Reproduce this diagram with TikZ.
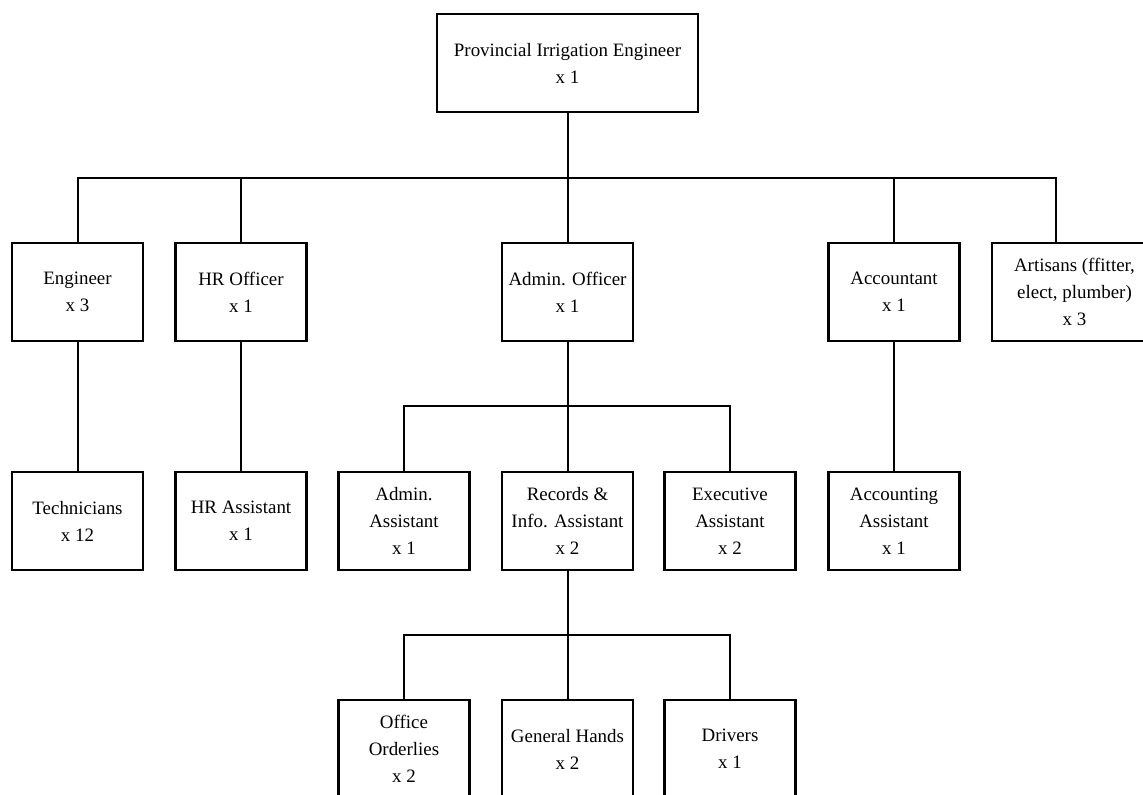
\documentclass[tikz,border=0pt]{standalone}
\usepackage{fontspec}
\setmainfont{Liberation Serif}[Ligatures=NoCommon]
\begin{document}
\begin{tikzpicture}[x=0.75pt,y=-0.75pt,
  post/.style={draw=black, line width=1.8pt, fill=white,
    minimum width=98.25pt, minimum height=73.5pt, inner sep=2pt,
    align=center, font=\fontsize{14.2}{20.3}\selectfont},
  link/.style={line width=1.5pt, line join=miter}]
\clip (0,0) rectangle (1143,794);

% top post
\node[post, minimum width=195.75pt] (pie) at (567.5,63) {Provincial Irrigation Engineer\\x 1};

% second level
\node[post] (eng) at (77.5,292) {Engineer\\x 3};
\node[post] (hro) at (241,292) {HR Officer\\x 1};
\node[post] (ado) at (567.5,292) {Admin. Officer\\x 1};
\node[post] (acc) at (894,292) {Accountant\\x 1};
\node[post, minimum width=123.75pt] (art) at (1074.5,292) {Artisans (ffitter,\\elect, plumber)\\x 3};

% third level
\node[post] (tec) at (77.5,521) {Technicians\\x 12};
\node[post] (hra) at (241,521) {HR Assistant\\x 1};
\node[post] (ada) at (404,521) {Admin.\\Assistant\\x 1};
\node[post] (rec) at (567.5,521) {Records \&\\Info. Assistant\\x 2};
\node[post] (exe) at (730,521) {Executive\\Assistant\\x 2};
\node[post] (aca) at (894,521) {Accounting\\Assistant\\x 1};

% fourth level
\node[post] (ord) at (404,749) {Office\\Orderlies\\x 2};
\node[post] (gen) at (567.5,749) {General Hands\\x 2};
\node[post] (drv) at (730,749) {Drivers\\x 1};

% branch bars
\coordinate (bar1) at (567.5,178);
\coordinate (bar2) at (567.5,406);
\coordinate (bar3) at (567.5,635);
\coordinate (artin) at ([xshift=48.75pt]art.north west);

% connectors
\draw[link] (pie.south) -- (ado.north);
\draw[link] (eng.north) |- (bar1) -| (artin);
\draw[link] (hro.north) -- (hro.north |- bar1);
\draw[link] (acc.north) -- (acc.north |- bar1);

\draw[link] (eng.south) -- (tec.north);
\draw[link] (hro.south) -- (hra.north);
\draw[link] (acc.south) -- (aca.north);

\draw[link] (ado.south) -- (rec.north);
\draw[link] (ada.north) |- (bar2) -| (exe.north);

\draw[link] (rec.south) -- (gen.north);
\draw[link] (ord.north) |- (bar3) -| (drv.north);
\end{tikzpicture}
\end{document}
